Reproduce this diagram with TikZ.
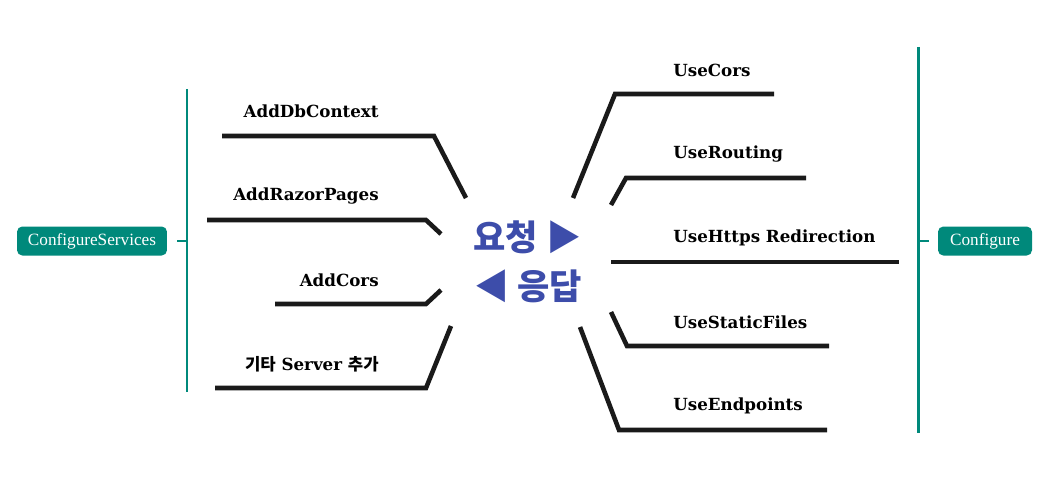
\documentclass[tikz,border=0pt]{standalone}
\usepackage{fontspec}
\usepackage{tikz}
\usetikzlibrary{positioning}
\newfontfamily\slabfont{DejaVu Serif}
\newfontfamily\boxfont{Liberation Serif}
\newfontfamily\krfont{Noto Sans CJK KR}
\definecolor{MapTeal}{HTML}{00897B}
\definecolor{MapBlue}{HTML}{3D4DAA}
\definecolor{MapInk}{HTML}{1A1A1A}

\begin{document}
\begin{tikzpicture}[x=0.02cm, y=-0.02cm,
  branch/.style={line width=2.6pt, color=MapInk},
  trunk/.style={line width=1.7pt, color=MapTeal},
  lbl/.style={font=\slabfont\bfseries\fontsize{9.5}{11}\selectfont, inner sep=0pt},
  hub/.style={fill=MapTeal, rounded corners=3pt, text=white, minimum height=0.58cm,
              font=\boxfont\fontsize{9.8}{11}\selectfont, inner xsep=4pt},
  center/.style={font=\krfont\bfseries\fontsize{20}{22}\selectfont, text=MapBlue, inner sep=0pt}
]
  \useasboundingbox (0,0) rectangle (1050,483);

  % left side
  \node[hub, minimum width=3cm] (cs) at (92,241) {ConfigureServices};
  \draw[trunk] (187,89) -- (187,392);
  \draw[trunk] (cs.east) ++(10,0) coordinate (csTick) -- (187,241);

  \node[lbl, anchor=east] (l1) at (379,111) {AddDbContext};
  \node[lbl, anchor=east] (l2) at (379,196) {AddRazorPages};
  \node[lbl, anchor=east] (l3) at (379,280) {AddCors};
  \node[lbl, anchor=east] (l4) at (379,364) {{\krfont 기타} Server {\krfont 추가}};
  \draw[branch] (222,136) -- (434,136) -- (466,198);
  \draw[branch] (207,220) -- (426,220) -- (441,234);
  \draw[branch] (275,304) -- (426,304) -- (441,290);
  \draw[branch] (215,388) -- (426,388) -- (451,326);

  % middle
  \node[center, anchor=west] (req) at (473,237) {요청 ▶};
  \node[center, anchor=west] (res) at (474,286) {◀ 응답};

  % right side
  \node[hub, minimum width=1.88cm] (cf) at (985,241) {Configure};
  \draw[trunk] (918,47) -- (918,433);
  \draw[trunk] (cf.west) ++(-9,0) coordinate (cfTick) -- (918,241);

  \node[lbl, anchor=west] (r1) at (673,70)  {UseCors};
  \node[lbl, anchor=west] (r2) at (673,154) {UseRouting};
  \node[lbl, anchor=west] (r3) at (673,238) {UseHttps Redirection};
  \node[lbl, anchor=west] (r4) at (673,322) {UseStaticFiles};
  \node[lbl, anchor=west] (r5) at (673,406) {UseEndpoints};
  \draw[branch] (573,198) -- (615,94) -- (774,94);
  \draw[branch] (611,205) -- (626,178) -- (806,178);
  \draw[branch] (611,262) -- (899,262);
  \draw[branch] (611,312) -- (627,346) -- (829,346);
  \draw[branch] (580,327) -- (619,430) -- (827,430);
\end{tikzpicture}
\end{document}
